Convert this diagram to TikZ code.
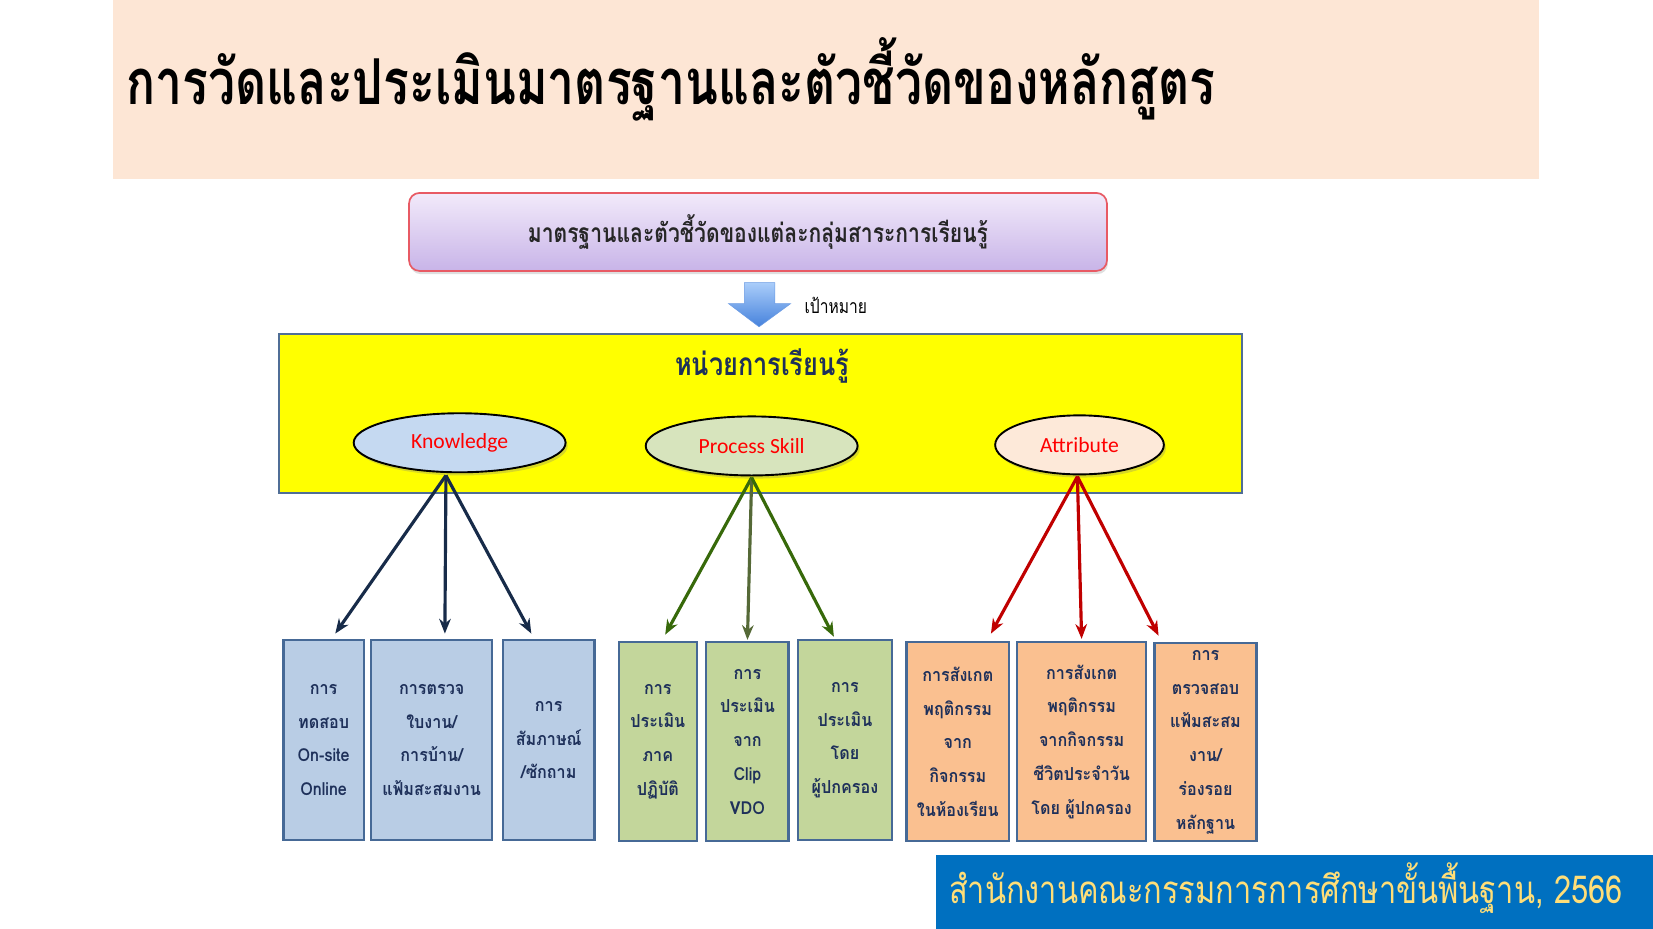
\documentclass[tikz,border=0pt]{standalone}
\usepackage{fontspec}
\usetikzlibrary{shapes.geometric,shadows,arrows.meta}
\newfontfamily\thaibox[Script=Thai,FakeStretch=0.90]{Loma}
\newfontfamily\thaicond[Script=Thai,FakeStretch=0.80]{Loma}
\newfontfamily\thaititle[Script=Thai,FakeStretch=0.76]{Loma}
\newfontfamily\latin{Carlito}
\definecolor{headbg}{RGB}{253,230,213}
\definecolor{bbox}{RGB}{185,205,229}
\definecolor{gbox}{RGB}{195,214,155}
\definecolor{obox}{RGB}{250,192,144}
\definecolor{boxedge}{RGB}{70,105,150}
\definecolor{yedge}{RGB}{80,110,150}
\definecolor{navy}{RGB}{30,48,90}
\definecolor{karrow}{RGB}{23,43,73}
\definecolor{parrow}{RGB}{55,105,10}
\definecolor{parrowmid}{RGB}{85,105,55}
\definecolor{aarrow}{RGB}{192,0,0}
\definecolor{footblue}{RGB}{0,112,192}
\definecolor{foottext}{RGB}{255,222,120}
\definecolor{kfill}{RGB}{197,217,241}
\definecolor{pfill}{RGB}{215,228,189}
\definecolor{afill}{RGB}{253,233,217}
\definecolor{pinkedge}{RGB}{232,90,100}
\definecolor{pinktop}{RGB}{242,234,250}
\definecolor{pinkbot}{RGB}{200,180,232}
\definecolor{arrtop}{RGB}{170,205,250}
\definecolor{arrbot}{RGB}{70,130,220}
\definecolor{pureyellow}{RGB}{255,255,0}
\begin{document}
\begin{tikzpicture}[x=1pt,y=-1pt,
  boxstyle/.style={draw=boxedge,line width=2.2pt,inner sep=0pt,align=center,text=navy,
    font=\thaibox\bfseries\fontsize{17}{32}\selectfont},
  ovalstyle/.style={ellipse,draw=black,line width=1.8pt,inner sep=0pt,text=red,
    minimum height=56pt,font=\latin\fontsize{20.5}{22}\selectfont,
    drop shadow={shadow xshift=2pt,shadow yshift=-3pt,opacity=0.3}},
  karr/.style={draw=karrow,line width=3pt,-{Stealth[length=14pt,width=11pt]}},
  parr/.style={draw=parrow,line width=3pt,-{Stealth[length=14pt,width=11pt]}},
  aarr/.style={draw=aarrow,line width=3pt,-{Stealth[length=14pt,width=11pt]}}]
\useasboundingbox (0,0) rectangle (1568,881);
% header
\fill[headbg] (107,0) rectangle (1460,170);
\node[anchor=base west,inner sep=0pt,font=\thaititle\bfseries\fontsize{60}{64}\selectfont] (title) at (120,99) {การวัดและประเมินมาตรฐานและตัวชี้วัดของหลักสูตร};
% standards box
\node[rounded corners=10pt,draw=pinkedge,line width=1.6pt,top color=pinktop,bottom color=pinkbot,
  minimum width=662pt,minimum height=74pt,inner sep=0pt,
  drop shadow={shadow xshift=1pt,shadow yshift=-3pt,opacity=0.25},
  font=\thaicond\bfseries\fontsize{25}{28}\selectfont,text=black!85] (std) at (719,220) {มาตรฐานและตัวชี้วัดของแต่ละกลุ่มสาระการเรียนรู้};
% block arrow
\path[top color=arrtop,bottom color=arrbot,draw=arrbot!80!white,line width=0.5pt]
  (706,268) -- (735,268) -- (735,288) -- (750,288) -- (720,310) -- (691,288) -- (706,288) -- cycle;
\node[anchor=base west,inner sep=0pt,font=\thaicond\fontsize{18.5}{20}\selectfont] (goal) at (763,297) {เป้าหมาย};
% unit box
\node[draw=yedge,line width=2pt,fill=pureyellow,minimum width=913pt,minimum height=151pt,inner sep=0pt] (unit) at (721.5,392.5) {};
\node[anchor=base,inner sep=0pt,text=navy,font=\thaicond\bfseries\fontsize{30}{32}\selectfont] (unitlbl) at (723,356) {หน่วยการเรียนรู้};
% ovals
\node[ovalstyle,fill=kfill,minimum width=201pt] (kn) at (436,420) {Knowledge};
\node[ovalstyle,fill=pfill,minimum width=201pt] (ps) at (713,423) {Process Skill};
\node[ovalstyle,fill=afill,minimum width=160pt] (at) at (1024,422) {Attribute};
% boxes
\node[boxstyle,fill=bbox,minimum width=76pt,minimum height=190pt] (b1) at (307,702) {การ\\ทดสอบ\\On-site\\Online};
\node[boxstyle,fill=bbox,minimum width=115pt,minimum height=190pt] (b2) at (409.5,702) {การตรวจ\\ใบงาน/\\การบ้าน/\\แฟ้มสะสมงาน};
\node[boxstyle,fill=bbox,minimum width=87pt,minimum height=190pt] (b3) at (520.5,702) {การ\\สัมภาษณ์\\/ซักถาม};
\node[boxstyle,fill=gbox,minimum width=74pt,minimum height=189pt] (b4) at (624,703.5) {การ\\ประเมิน\\ภาค\\ปฏิบัติ};
\node[boxstyle,fill=gbox,minimum width=78pt,minimum height=189pt] (b5) at (709,703.5) {การ\\ประเมิน\\จาก\\Clip\\VDO};
\node[boxstyle,fill=gbox,minimum width=89pt,minimum height=190pt] (b6) at (801.5,702) {การ\\ประเมิน\\โดย\\ผู้ปกครอง};
\node[boxstyle,fill=obox,minimum width=97pt,minimum height=189pt] (b7) at (908.5,703.5) {การสังเกต\\พฤติกรรม\\จาก\\กิจกรรม\\ในห้องเรียน};
\node[boxstyle,fill=obox,minimum width=122pt,minimum height=189pt] (b8) at (1026,703.5) {การสังเกต\\พฤติกรรม\\จากกิจกรรม\\ชีวิตประจำวัน\\โดย ผู้ปกครอง};
\node[boxstyle,fill=obox,minimum width=97pt,minimum height=188pt] (b9) at (1143.5,704) {การ\\ตรวจสอบ\\แฟ้มสะสม\\งาน/\\ร่องรอย\\หลักฐาน};
% arrow origins and ends
\coordinate (ko) at (423,451);
\coordinate (po) at (713,453);
\coordinate (ao) at (1022,452);
\coordinate (t1) at (318,601);
\coordinate (t2) at (422,601);
\coordinate (t3) at (504,601);
\coordinate (t4) at (631,602);
\coordinate (t5) at (709,607);
\coordinate (t6) at (791,604);
\coordinate (t7) at (940,601);
\coordinate (t8) at (1026,606);
\coordinate (t9) at (1099,603);
\draw[karr] (ko) -- (t1);
\draw[karr] (ko) -- (t2);
\draw[karr] (ko) -- (t3);
\draw[parr] (po) -- (t4);
\draw[parr,draw=parrowmid] (po) -- (t5);
\draw[parr] (po) -- (t6);
\draw[aarr] (ao) -- (t7);
\draw[aarr] (ao) -- (t8);
\draw[aarr] (ao) -- (t9);
% footer
\fill[footblue] (888,811) rectangle (1568,881);
\node[anchor=base west,inner sep=0pt,text=foottext,font=\thaicond\fontsize{36.5}{40}\selectfont] (foot) at (900,857) {สำนักงานคณะกรรมการการศึกษาขั้นพื้นฐาน, 2566};
\end{tikzpicture}
\end{document}
